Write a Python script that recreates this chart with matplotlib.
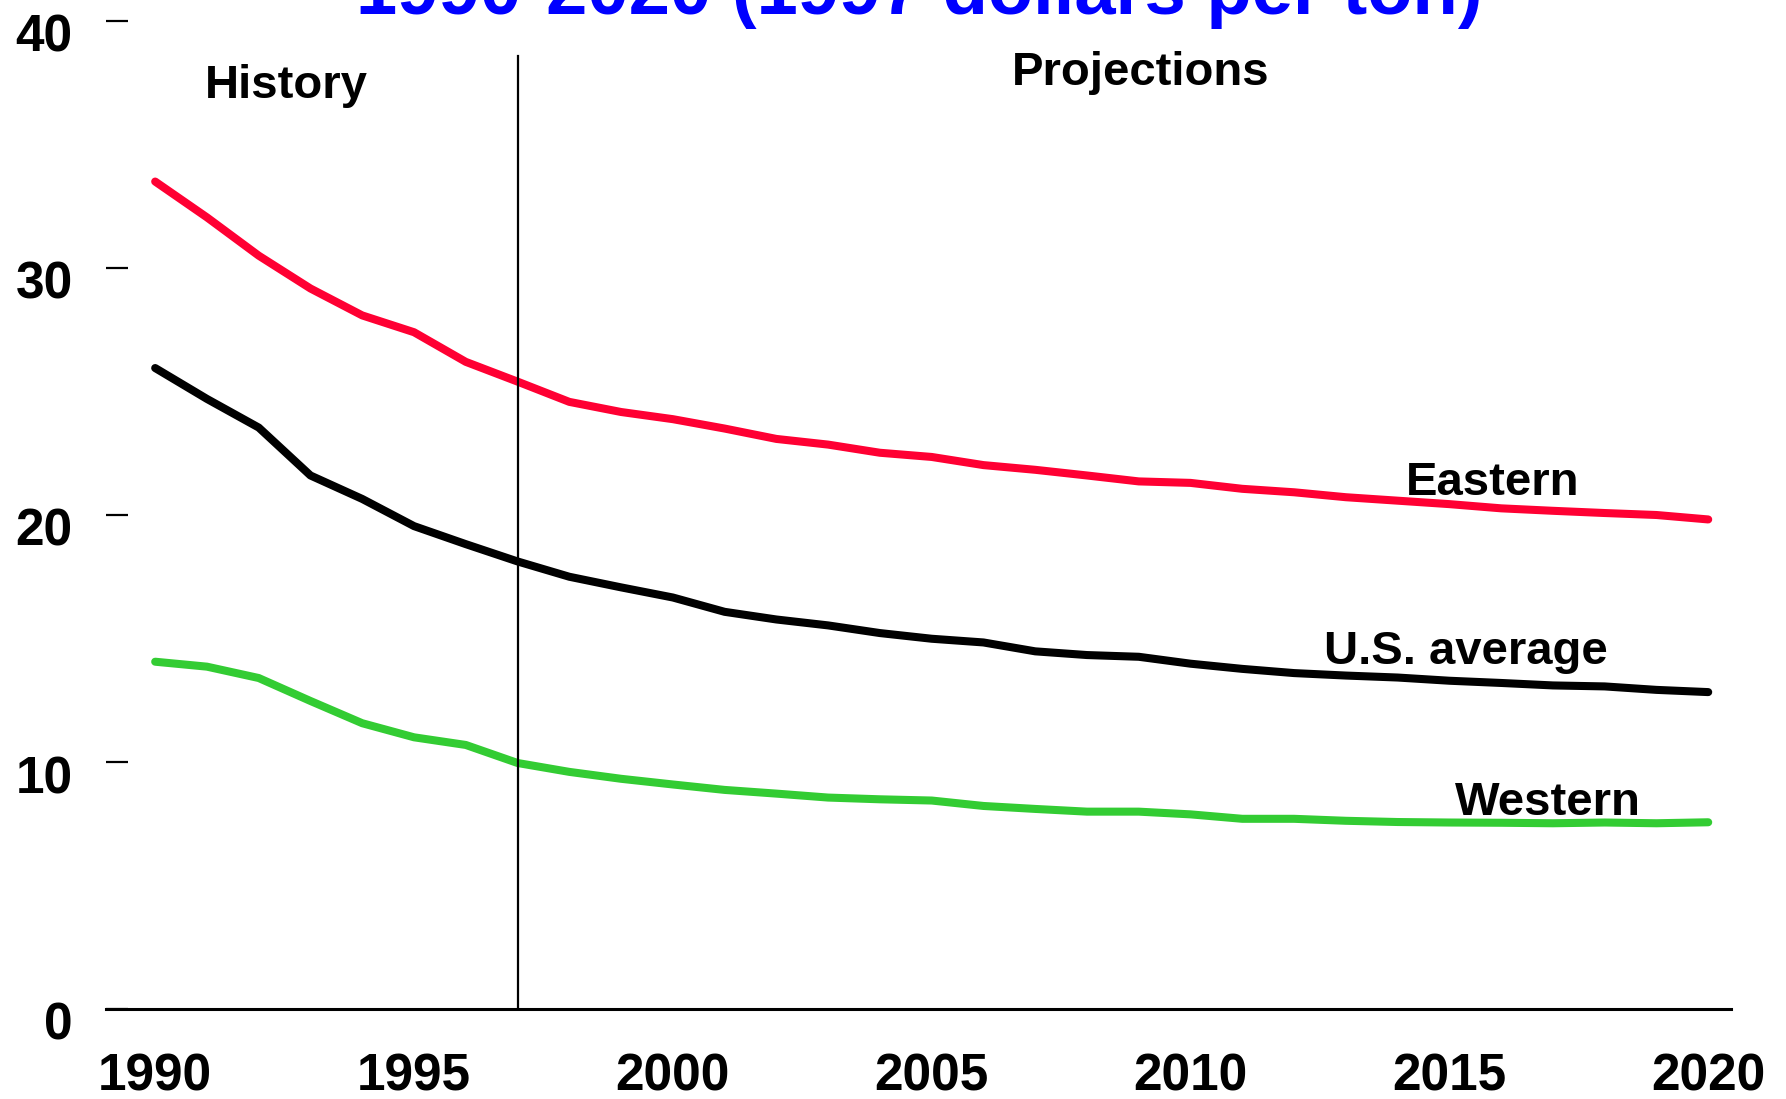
import matplotlib
matplotlib.use("Agg")
import matplotlib.pyplot as plt
from matplotlib.transforms import ScaledTranslation

years = list(range(1990, 2021))
eastern = [33.5, 32.05, 30.5, 29.17, 28.08, 27.4, 26.2, 25.4, 24.58, 24.17,
           23.88, 23.5, 23.08, 22.85, 22.52, 22.35, 22.02, 21.83, 21.6, 21.36,
           21.3, 21.06, 20.92, 20.72, 20.58, 20.44, 20.27, 20.17, 20.08, 20.0, 19.82]
us_average = [25.95, 24.7, 23.54, 21.6, 20.65, 19.55, 18.82, 18.12, 17.5, 17.07,
              16.66, 16.08, 15.77, 15.53, 15.22, 14.99, 14.84, 14.48, 14.33, 14.26,
              13.98, 13.77, 13.6, 13.5, 13.42, 13.29, 13.2, 13.1, 13.06, 12.92, 12.83]
western = [14.06, 13.86, 13.4, 12.47, 11.57, 11.0, 10.69, 9.96, 9.6, 9.32,
           9.09, 8.87, 8.72, 8.56, 8.49, 8.44, 8.22, 8.1, 7.99, 7.99,
           7.88, 7.7, 7.7, 7.62, 7.57, 7.55, 7.54, 7.52, 7.55, 7.52, 7.56]

xticks = [1990, 1995, 2000, 2005, 2010, 2015, 2020]
yticks = [0, 10, 20, 30, 40]
title_text = "1990-2020 (1997 dollars per ton)"
history_year = 1997

FONT = "Liberation Sans"

fig = plt.figure(figsize=(17.86, 10.99), dpi=100)
ax = fig.add_axes([106/1786, 1 - 1009/1099, (1731-106)/1786, (1009-21)/1099])

lw = 5.8
ax.plot(years, eastern, color="#FF0033", lw=lw, solid_capstyle="round", solid_joinstyle="round")
ax.plot(years, us_average, color="black", lw=lw, solid_capstyle="round", solid_joinstyle="round")
ax.plot(years, western, color="#33CC33", lw=lw, solid_capstyle="round", solid_joinstyle="round")

ax.plot([history_year, history_year], [0, 38.6], color="black", lw=1.6)

ax.set_xlim(1989.05, 2020.44)
ax.set_ylim(0, 40)

for s in ["top", "right", "left"]:
    ax.spines[s].set_visible(False)
ax.spines["bottom"].set_linewidth(2.2)

ax.set_xticks(xticks)
ax.set_xticklabels([str(v) for v in xticks], fontfamily=FONT, fontweight="bold", fontsize=37)
ax.tick_params(axis="x", length=0, pad=31)
ax.set_yticks(yticks)
ax.set_yticklabels([str(v) for v in yticks], fontfamily=FONT, fontweight="bold", fontsize=37)
ax.tick_params(axis="y", direction="in", length=16, width=1.6, pad=24)
for lab in ax.get_yticklabels():
    lab.set_transform(lab.get_transform() + ScaledTranslation(0, -0.12, fig.dpi_scale_trans))

txt = dict(fontfamily=FONT, fontweight="bold", fontsize=34, ha="center", va="baseline", color="black")
ax.text(1992.53, 36.88, "History", **txt)
ax.text(2009.03, 37.40, "Projections", **txt)
ax.text(2015.83, 20.81, "Eastern", **txt)
ax.text(2015.32, 13.96, "U.S. average", **txt)
ax.text(2016.91, 7.85, "Western", **txt)

fig.text(919.5/1786, 1 - 14/1099, title_text, fontfamily=FONT, fontweight="bold",
         fontsize=53.5, color="#0000FF", ha="center", va="baseline")

fig.savefig("out.png", dpi=100, facecolor="white")
